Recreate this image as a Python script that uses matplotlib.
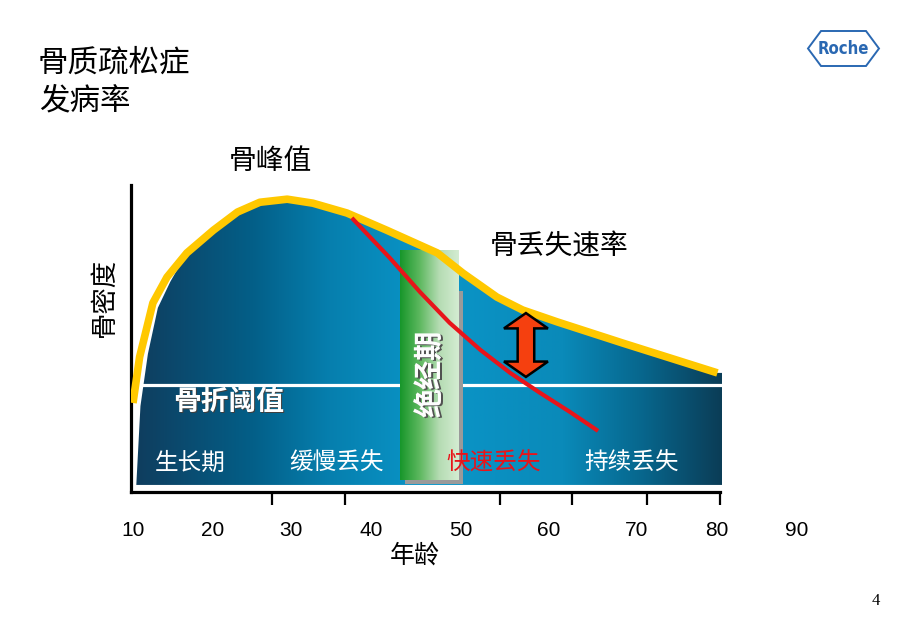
import numpy as np
import matplotlib.pyplot as plt
from matplotlib.colors import LinearSegmentedColormap
from matplotlib.patches import Polygon, Rectangle

plt.rcParams['font.family'] = ['Noto Sans CJK SC', 'DejaVu Sans']

# bone density curve (yellow line), age vs relative bone mass
age_curve = [10.0, 10.8, 12.4, 14.1, 16.5, 19.7, 22.6, 25.3, 28.6, 31.7, 35.8,
             40.6, 46.7, 49.8, 53.9, 57.0, 61.2, 69.1, 80.5]
bmd_curve = [29.0, 44.0, 61.6, 70.0, 77.9, 85.3, 91.2, 94.4, 95.4, 94.1, 90.9,
             85.3, 77.9, 71.3, 63.5, 59.3, 55.4, 48.5, 38.8]

# blue area: left edge sits just inside the yellow curve
area_x = [10.4, 10.9, 11.8, 13.0, 14.5] + age_curve[4:] + [81.05]
area_y = [2.3, 28.0, 45.0, 60.0, 68.5] + bmd_curve[4:] + [38.8]
area_bottom = 2.3

# fast loss after menopause (red line)
fast_x = [36.4, 41.0, 44.6, 48.2, 51.9, 55.5, 59.1, 62.7, 66.1]
fast_y = [89.3, 76.2, 65.2, 55.1, 46.3, 38.8, 32.3, 26.1, 19.9]

threshold = 34.9
threshold_span = [9.4, 81.05]

meno_span = [42.2, 49.2]
meno_range = [3.9, 78.8]

arrow_x = 57.4
arrow_range = [37.5, 58.3]

tick_label_pos = [10, 19.6, 29.1, 38.7, 49.6, 60.2, 70.8, 80.4, 90.1]
tick_labels = ['10', '20', '30', '40', '50', '60', '70', '80', '90']
tick_marks = [26.8, 35.6, 54.3, 63.0, 72.0, 80.8]

phases = ['生长期', '缓慢丢失', '快速丢失', '持续丢失']
phase_x = [16.9, 34.6, 53.5, 70.2]
phase_colors = ['white', 'white', '#e8141a', 'white']
phase_y = 9.4

fig = plt.figure(figsize=(9.2, 6.37), dpi=100)
ax = fig.add_axes([131 / 920, 145 / 637, 689 / 920, 372 / 637])

# gradient filled area
blue_cmap = LinearSegmentedColormap.from_list('bone', [
    (0.0, '#0f3d5e'), (0.2, '#035f88'), (0.33, '#067fae'), (0.5, '#0a96c9'),
    (0.73, '#0a8ab9'), (0.86, '#07688f'), (1.0, '#0b3d57')])
verts = list(zip(area_x, area_y)) + [(area_x[-1], area_bottom)]
area = Polygon(verts, closed=True, facecolor='none', edgecolor='none')
ax.add_patch(area)
grad = np.linspace(0, 1, 256).reshape(1, -1)
im = ax.imshow(grad, cmap=blue_cmap, aspect='auto', zorder=1,
               extent=(10.3, 81.1, area_bottom, 100))
im.set_clip_path(area)

# fracture threshold
ax.plot(threshold_span, [threshold, threshold], color='white', lw=2.3, zorder=2)

# menopause bar with shadow
ax.add_patch(Rectangle((meno_span[0] + 0.6, meno_range[0] - 1.3),
                       meno_span[1] - meno_span[0], 63,
                       facecolor='#9a9a9a', edgecolor='none', zorder=3))
green_cmap = LinearSegmentedColormap.from_list('meno', ['#17962a', '#5db85f', '#b5dcb3', '#d4ecd2'])
ax.imshow(grad, cmap=green_cmap, aspect='auto', zorder=4,
          extent=(meno_span[0], meno_span[1], meno_range[0], meno_range[1]))

ax.plot(age_curve, bmd_curve, color='#ffc800', lw=5.5, zorder=5,
        solid_capstyle='butt', solid_joinstyle='round')
ax.plot(fast_x, fast_y, color='#e8141a', lw=3, zorder=6, solid_capstyle='butt')

# double arrow
sw, hw, hl = 1.0, 2.65, 5.0
top, bot = arrow_range[1], arrow_range[0]
pts = [(arrow_x - sw, top - hl), (arrow_x - hw, top - hl), (arrow_x, top),
       (arrow_x + hw, top - hl), (arrow_x + sw, top - hl), (arrow_x + sw, bot + hl),
       (arrow_x + hw, bot + hl), (arrow_x, bot), (arrow_x - hw, bot + hl),
       (arrow_x - sw, bot + hl)]
ax.add_patch(Polygon(pts, closed=True, facecolor='#f5400f', edgecolor='black',
                     lw=1.8, zorder=7))

# texts
ax.text(26.6, 107.8, '骨峰值', fontsize=20, ha='center', va='center')
ax.text(61.4, 80.1, '骨丢失速率', fontsize=20, ha='center', va='center')
ax.text(21.7, 28.9, '骨折阈值', fontsize=20, fontweight='bold', color='#404040',
        ha='center', va='center', zorder=8)
ax.text(21.5, 29.3, '骨折阈值', fontsize=20, fontweight='bold', color='white',
        ha='center', va='center', zorder=8)
for name, x, c in zip(phases, phase_x, phase_colors):
    ax.text(x, phase_y, name, fontsize=17, color=c, ha='center', va='center', zorder=8)
ax.text(46.1, 38.4, '绝经期', fontsize=21, fontweight='bold', color='#505050',
        rotation=90, ha='center', va='center', zorder=8)
ax.text(45.9, 38.8, '绝经期', fontsize=21, fontweight='bold', color='white',
        rotation=90, ha='center', va='center', zorder=8)

# axes
ax.set_xlim(9.76, 92.87)
ax.set_ylim(0, 121.2)
ax.spines['top'].set_visible(False)
ax.spines['right'].set_visible(False)
ax.spines['left'].set_bounds(0, 100)
ax.spines['bottom'].set_bounds(9.76, 80.8)
ax.spines['left'].set_linewidth(2.3)
ax.spines['bottom'].set_linewidth(2.3)
ax.set_yticks([])
ax.set_xticks(tick_label_pos, tick_labels, fontsize=15, family='Liberation Sans')
ax.tick_params(axis='x', which='major', length=0, pad=21)
ax.set_xticks(tick_marks, minor=True)
ax.tick_params(axis='x', which='minor', length=9, width=1.6, direction='out')
ax.set_xlabel('年龄', fontsize=18)
ax.xaxis.set_label_coords(0.412, -0.135)
ax.set_ylabel('骨密度', fontsize=19, va='center')
ax.yaxis.set_label_coords(-0.038, 0.524)

# title
fig.text(38 / 920, 1 - 63 / 637, '骨质疏松症', fontsize=22, va='center')
fig.text(39 / 920, 1 - 101 / 637, '发病率', fontsize=22, style='italic', va='center')
fig.text(876 / 920, 1 - 601 / 637, '4', fontsize=12, family='Liberation Serif',
         ha='center', va='center')

# Roche logo
roche_blue = '#2a68b2'
cx, cy = 843.5, 48.5
hex_px = [(-35.5, 0), (-22.5, 17.5), (22.5, 17.5), (35.5, 0), (22.5, -17.5), (-22.5, -17.5)]
hex_fig = [((cx + dx) / 920, 1 - (cy - dy) / 637) for dx, dy in hex_px]
fig.patches.append(Polygon(hex_fig, closed=True, facecolor='none', edgecolor=roche_blue,
                           lw=1.4, transform=fig.transFigure, figure=fig))
fig.text(cx / 920, 1 - cy / 637, 'Roche', fontsize=12, fontweight='bold', color=roche_blue,
         family='DejaVu Sans', fontstretch='condensed', ha='center', va='center')

fig.savefig('out.png', dpi=100)
